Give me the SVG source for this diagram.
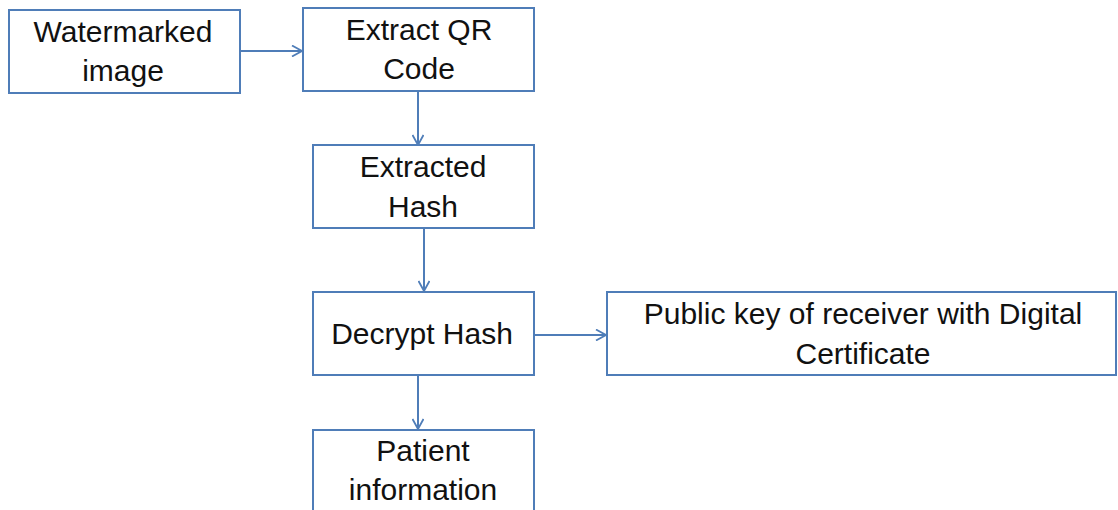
<svg xmlns="http://www.w3.org/2000/svg" width="1118" height="510" viewBox="0 0 1118 510">
  <style>
    .box { fill: #ffffff; stroke: #4f7db8; stroke-width: 2; }
    .lbl { font-family: "Liberation Sans", Arial, sans-serif; font-size: 30px; fill: #111111; text-anchor: middle; }
    .link { stroke: #4f7db8; stroke-width: 2; fill: none; marker-end: url(#chev); }
  </style>
  <defs>
    <marker id="chev" viewBox="0 0 12 12" refX="11" refY="6" markerWidth="12" markerHeight="12" markerUnits="userSpaceOnUse" orient="auto">
      <polyline points="1,0.5 11,6 1,11.5" fill="none" stroke="#4f7db8" stroke-width="1.8"/>
    </marker>
  </defs>
  <rect width="1118" height="510" fill="#ffffff"/>

  <g id="connectors">
    <line class="link" x1="240" y1="51" x2="302" y2="51"/>
    <line class="link" x1="418" y1="91" x2="418" y2="145"/>
    <line class="link" x1="424" y1="228" x2="424" y2="291"/>
    <line class="link" x1="534" y1="335" x2="606" y2="335"/>
    <line class="link" x1="418" y1="375" x2="418" y2="429"/>
  </g>

  <g id="watermarked-image">
    <rect class="box" x="9" y="10" width="231" height="83"/>
    <text class="lbl" x="123" y="42">Watermarked</text>
    <text class="lbl" x="123" y="81">image</text>
  </g>

  <g id="extract-qr">
    <rect class="box" x="303" y="8" width="231" height="83"/>
    <text class="lbl" x="419" y="40">Extract QR</text>
    <text class="lbl" x="419" y="79">Code</text>
  </g>

  <g id="extracted-hash">
    <rect class="box" x="313" y="145" width="221" height="83"/>
    <text class="lbl" x="423" y="177">Extracted</text>
    <text class="lbl" x="423" y="217">Hash</text>
  </g>

  <g id="decrypt-hash">
    <rect class="box" x="313" y="292" width="221" height="83"/>
    <text class="lbl" x="422" y="344">Decrypt Hash</text>
  </g>

  <g id="public-key">
    <rect class="box" x="607" y="292" width="509" height="83"/>
    <text class="lbl" x="863" y="324">Public key of receiver with Digital</text>
    <text class="lbl" x="863" y="364">Certificate</text>
  </g>

  <g id="patient-info">
    <rect class="box" x="313" y="430" width="221" height="90"/>
    <text class="lbl" x="423" y="461">Patient</text>
    <text class="lbl" x="423" y="500">information</text>
  </g>
</svg>
